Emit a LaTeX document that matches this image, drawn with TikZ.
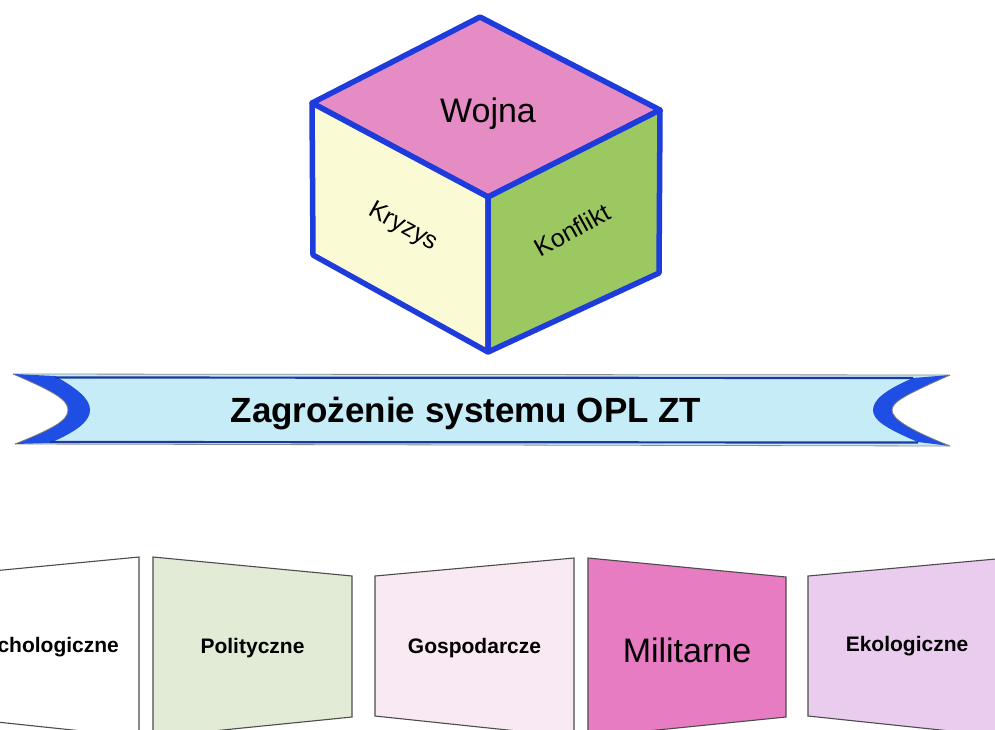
\documentclass[tikz,border=0pt]{standalone}
\usepackage{fontspec}
\setmainfont{Liberation Sans}
\definecolor{cubeblue}{HTML}{1E3CDC}
\definecolor{toppink}{HTML}{E68CC4}
\definecolor{leftyellow}{HTML}{FAFAD4}
\definecolor{rightgreen}{HTML}{9CC862}
\definecolor{ribbonfill}{HTML}{C6ECF8}
\definecolor{ribbonblue}{HTML}{1E4EE4}
\definecolor{ribbonline}{HTML}{1A3AA0}
\definecolor{boxwhite}{HTML}{FFFFFF}
\definecolor{boxgreen}{HTML}{E2EBD6}
\definecolor{boxpale}{HTML}{F9E9F2}
\definecolor{boxpink}{HTML}{E77CC2}
\definecolor{boxlilac}{HTML}{EACCEE}
\tikzset{
  face/.style={line width=5.5pt, draw=cubeblue, line join=round},
  facelabel/.style={font=\fontsize{25}{30}\selectfont, inner sep=0pt},
  panel/.style={draw=black!70, line width=1.1pt, line join=miter},
  panellabel/.style={font=\fontsize{21}{25}\selectfont\bfseries, inner sep=0pt},
}
\begin{document}
\begin{tikzpicture}[x=1pt,y=-1pt]
\useasboundingbox (0,0) rectangle (995,729);
\clip (0,0) rectangle (995,729);
\fill[white] (0,0) rectangle (995,729);

% ---- cube ----
\coordinate (ctop) at (480,17);
\coordinate (cleft) at (312,103);
\coordinate (cright) at (660,110);
\coordinate (cfront) at (488,197);
\coordinate (cbl) at (313,255);
\coordinate (cbr) at (659,273);
\coordinate (cbot) at (488,352);
\filldraw[face, fill=toppink] (ctop) -- (cright) -- (cfront) -- (cleft) -- cycle;
\filldraw[face, fill=leftyellow] (cleft) -- (cfront) -- (cbot) -- (cbl) -- cycle;
\filldraw[face, fill=rightgreen] (cfront) -- (cright) -- (cbr) -- (cbot) -- cycle;
\node[font=\fontsize{34}{40}\selectfont, inner sep=0pt, anchor=base] (wojna) at (488,122) {Wojna};
\node[facelabel, rotate=-29] (kryzys) at (403,227) {Kryzys};
\node[facelabel, rotate=29] (konflikt) at (572,230) {Konflikt};

% ---- ribbon ----
\fill[ribbonfill] (13,374) -- (950,375)
  .. controls (905,395) and (892,402) .. (892,410)
  .. controls (892,418) and (905,428) .. (950,446)
  -- (15,444)
  .. controls (55,428) and (68,420) .. (68,410)
  .. controls (68,400) and (55,392) .. (13,374) -- cycle;
\draw[black!45, line width=0.8pt] (13,374) -- (950,375);
\draw[black!45, line width=0.8pt] (15,444) -- (950,446);
% folded ends
\fill[ribbonblue] (13,374)
  .. controls (55,392) and (68,400) .. (68,410)
  .. controls (68,420) and (55,428) .. (15,444)
  -- (50,443)
  .. controls (80,430) and (90,420) .. (90,410)
  .. controls (90,400) and (80,390) .. (55,376) -- cycle;
\fill[ribbonblue] (950,375)
  .. controls (905,395) and (892,402) .. (892,410)
  .. controls (892,418) and (905,428) .. (950,446)
  -- (918,442)
  .. controls (885,428) and (873,420) .. (873,410)
  .. controls (873,400) and (885,390) .. (913,378) -- cycle;
\draw[black!50, line width=0.8pt] (13,374)
  .. controls (55,392) and (68,400) .. (68,410)
  .. controls (68,420) and (55,428) .. (15,444);
\draw[black!50, line width=0.8pt] (950,375)
  .. controls (905,395) and (892,402) .. (892,410)
  .. controls (892,418) and (905,428) .. (950,446);
\draw[ribbonline, line width=2.2pt] (55,377.5) -- (913,378);
\draw[ribbonline, line width=2.2pt] (50,442) -- (918,442.5);
\node[font=\fontsize{35}{42}\selectfont\bfseries, inner sep=0pt, anchor=base] (title) at (466,422) {Zagrożenie systemu OPL ZT};

% ---- threat panels ----
\filldraw[panel, fill=boxwhite] (-60,576) -- (139,557) -- (139,737) -- (-60,716) -- cycle;
\filldraw[panel, fill=boxgreen] (153,557) -- (352,576) -- (352,717) -- (153,737) -- cycle;
\filldraw[panel, fill=boxpale] (375,576) -- (574,558) -- (574,737) -- (375,716) -- cycle;
\filldraw[panel, fill=boxpink] (588,558) -- (786,577) -- (786,717) -- (588,737) -- cycle;
\filldraw[panel, fill=boxlilac] (808,576) -- (1007,558) -- (1007,737) -- (808,716) -- cycle;
\node[panellabel] (psych) at (39.5,647) {Psychologiczne};
\node[panellabel] (polit) at (252.5,648) {Polityczne};
\node[panellabel] (gosp) at (474.5,648) {Gospodarcze};
\node[font=\fontsize{34}{40}\selectfont, inner sep=0pt] (milit) at (687,650) {Militarne};
\node[panellabel] (ekol) at (907,646) {Ekologiczne};
\end{tikzpicture}
\end{document}
